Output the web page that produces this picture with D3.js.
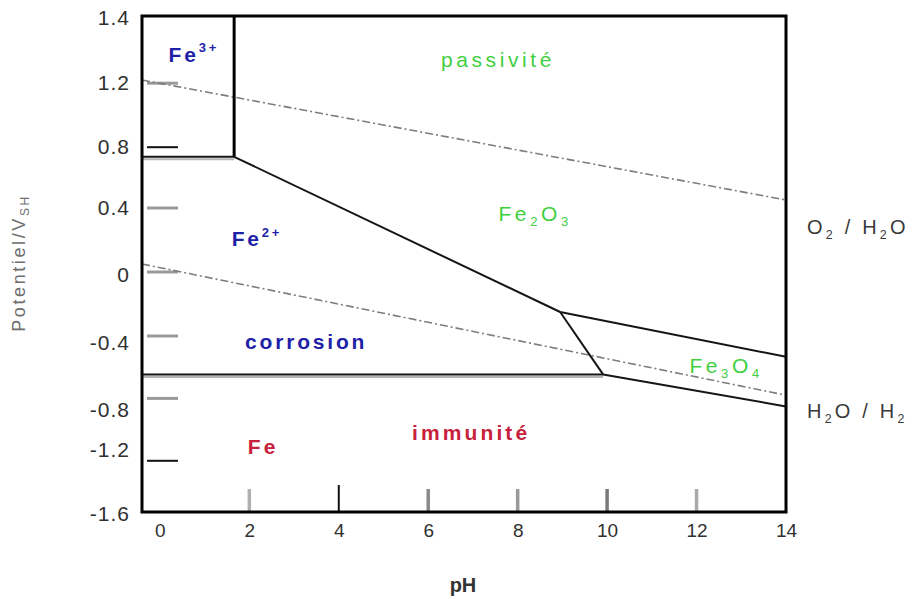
<!DOCTYPE html>
<html>
<head>
<meta charset="utf-8">
<script src="https://cdn.jsdelivr.net/npm/d3@7"></script>
<style>
  body { margin: 0; background: #fff; }
  svg { display: block; font-family: "Liberation Sans", Arial, sans-serif; }
</style>
</head>
<body>
<div id="chart"></div>
<script>
// axis extents: pH and potential (V)
const phDomain = [-0.4, 14]
const eDomain = [-1.49, 1.61]

const xTickValues = [0, 2, 4, 6, 8, 10, 12, 14]
const xInnerTicks = [2, 4, 6, 8, 10, 12]

// tick labels as printed on the picture, and where they sit
const yLabelText = ["1.4", "1.2", "0.8", "0.4", "0", "-0.4", "-0.8", "-1.2", "-1.6"]
const yLabelAt = [1.6, 1.19, 0.79, 0.41, -0.01, -0.43, -0.85, -1.1, -1.5]
const yInnerTicks = [1.19, 0.79, 0.41, 0.01, -0.39, -0.78, -1.17]

// water stability lines [pH, E]
const o2Line = [[-0.4, 1.21], [14, 0.46]]
const h2Line = [[-0.4, 0.06], [14, -0.76]]

// iron domain boundaries [pH, E]
const fe3Fe2 = [[-0.4, 0.73], [1.66, 0.73]]
const fe3Fe2O3 = [[1.66, 0.73], [1.66, 1.61]]
const fe2Fe2O3 = [[1.66, 0.73], [8.95, -0.24]]
const fe2O3Fe3O4 = [[8.95, -0.24], [14, -0.52]]
const fe2Fe3O4 = [[8.95, -0.24], [9.91, -0.63]]
const fe2Fe = [[-0.4, -0.63], [9.91, -0.63]]
const fe3O4Fe = [[9.91, -0.63], [14, -0.83]]

// domain names: text parts, anchor [pH, E], group
const regions = [
  {parts: [["Fe"], ["3+", "sup"]], at: [0.76, 1.325], group: "aq"},
  {parts: [["passivité"]], at: [7.56, 1.29], group: "ox"},
  {parts: [["Fe"], ["2", "sub"], ["O"], ["3", "sub"]], at: [8.39, 0.33], group: "ox"},
  {parts: [["Fe"], ["2+", "sup"]], at: [2.17, 0.17], group: "aq"},
  {parts: [["corrosion"]], at: [3.27, -0.47], group: "aq"},
  {parts: [["Fe"], ["3", "sub"], ["O"], ["4", "sub"]], at: [12.66, -0.62], group: "ox"},
  {parts: [["immunité"]], at: [6.96, -1.04], group: "met"},
  {parts: [["Fe"]], at: [2.31, -1.13], group: "met"},
]
const couples = [
  {parts: [["O"], ["2", "sub"], [" / H"], ["2", "sub"], ["O"]], at: [14.47, 0.25]},
  {parts: [["H"], ["2", "sub"], ["O / H"], ["2", "sub"]], at: [14.47, -0.9]},
]

const width = 914, height = 599
const svg = d3.select("#chart").append("svg")
    .attr("width", width)
    .attr("height", height)

const x = d3.scaleLinear().domain(phDomain).range([142, 786])
const y = d3.scaleLinear().domain(eDomain).range([512, 16])
const line = d3.line().x(d => x(d[0])).y(d => y(d[1]))

// short ticks inside the frame
const yTickColor = ["#9a9a9a", "#111", "#9a9a9a", "#9a9a9a", "#9a9a9a", "#9a9a9a", "#111"]
svg.selectAll(".ytick").data(yInnerTicks).enter().append("line")
    .attr("x1", x(phDomain[0]) + 5).attr("x2", x(phDomain[0]) + 36)
    .attr("y1", d => y(d)).attr("y2", d => y(d))
    .attr("stroke", (d, i) => yTickColor[i])
    .attr("stroke-width", (d, i) => yTickColor[i] == "#111" ? 2 : 3)

const xTickColor = ["#b0b0b0", "#111", "#8a8a8a", "#999", "#7a7a7a", "#aaa"]
svg.selectAll(".xtick").data(xInnerTicks).enter().append("line")
    .attr("x1", d => x(d)).attr("x2", d => x(d))
    .attr("y1", (d, i) => xTickColor[i] == "#111" ? 485 : 489).attr("y2", 512)
    .attr("stroke", (d, i) => xTickColor[i])
    .attr("stroke-width", (d, i) => xTickColor[i] == "#111" ? 2 : 3.5)

// water lines
for (const w of [o2Line, h2Line]) {
    svg.append("path").attr("d", line(w))
        .attr("fill", "none")
        .attr("stroke", "#7d7d7d")
        .attr("stroke-width", 1.6)
        .attr("stroke-dasharray", "8,3,2,3")
}

// horizontal boundaries have a grey shadow underneath
for (const b of [fe3Fe2, fe2Fe]) {
    svg.append("path").attr("d", line(b))
        .attr("transform", "translate(0,2.5)")
        .attr("fill", "none").attr("stroke", "#b5b5b5").attr("stroke-width", 2)
}
for (const b of [fe3Fe2, fe2Fe2O3, fe2O3Fe3O4, fe2Fe3O4, fe2Fe, fe3O4Fe]) {
    svg.append("path").attr("d", line(b))
        .attr("fill", "none").attr("stroke", "#151515").attr("stroke-width", 2)
}
svg.append("path").attr("d", line(fe3Fe2O3))
    .attr("fill", "none").attr("stroke", "#000").attr("stroke-width", 3)

// frame
svg.append("rect")
    .attr("x", x(phDomain[0])).attr("y", y(eDomain[1]))
    .attr("width", x(phDomain[1]) - x(phDomain[0]))
    .attr("height", y(eDomain[0]) - y(eDomain[1]))
    .attr("fill", "none").attr("stroke", "#000").attr("stroke-width", 3)

// axes labels
const yAxis = svg.append("g")
    .attr("transform", `translate(${x(phDomain[0])},0)`)
    .call(d3.axisLeft(y).tickValues(yLabelAt).tickFormat((d, i) => yLabelText[i]).tickSize(0).tickPadding(12))
yAxis.select(".domain").remove()
yAxis.selectAll("text")
    .attr("font-size", 21).attr("fill", "#303030")
    .attr("font-family", "Liberation Sans, Arial, sans-serif")
    .style("letter-spacing", "1px")

const xAxis = svg.append("g")
    .attr("transform", `translate(0,${y(eDomain[0])})`)
    .call(d3.axisBottom(x).tickValues(xTickValues).tickFormat(d3.format("d")).tickSize(0).tickPadding(12))
xAxis.select(".domain").remove()
xAxis.selectAll("text")
    .attr("font-size", 19).attr("fill", "#303030")
    .attr("font-family", "Liberation Sans, Arial, sans-serif")

svg.append("text")
    .attr("x", 463).attr("y", 592)
    .attr("text-anchor", "middle")
    .attr("font-size", 20).attr("font-weight", "bold").attr("fill", "#333")
    .text("pH")

const yTitle = svg.append("text")
    .attr("transform", "translate(25,263) rotate(-90)")
    .attr("text-anchor", "middle")
    .attr("font-size", 18).attr("fill", "#6e6e6e")
    .style("letter-spacing", "2.6px")
yTitle.append("tspan").text("Potentiel/V")
yTitle.append("tspan").attr("font-size", 12).attr("dy", 4).text("SH")

// write a label made of normal / sub / sup parts
function addParts(t, parts, size) {
    let shift = 0
    for (const p of parts) {
        const target = p[1] == "sup" ? -0.45 * size : p[1] == "sub" ? 0.25 * size : 0
        t.append("tspan")
            .attr("dy", target - shift)
            .attr("font-size", p[1] ? size * 0.62 : size)
            .text(p[0])
        shift = target
    }
}

const groupStyle = {
    aq: {fill: "#1f1fa8", size: 21, weight: "bold", ls: 2.8},
    ox: {fill: "#3fcf3f", size: 21, weight: "normal", ls: 3.6},
    met: {fill: "#c8213c", size: 21, weight: "bold", ls: 3.1},
}

for (const r of regions) {
    const s = groupStyle[r.group]
    const t = svg.append("text")
        .attr("x", x(r.at[0])).attr("y", y(r.at[1]))
        .attr("text-anchor", "middle")
        .attr("fill", s.fill).attr("font-weight", s.weight)
        .style("letter-spacing", s.ls + "px")
    addParts(t, r.parts, s.size)
}

for (const c of couples) {
    const t = svg.append("text")
        .attr("x", x(c.at[0])).attr("y", y(c.at[1]))
        .attr("fill", "#3a3a3a")
        .style("letter-spacing", "3.2px")
    addParts(t, c.parts, 20)
}
</script>
</body>
</html>
